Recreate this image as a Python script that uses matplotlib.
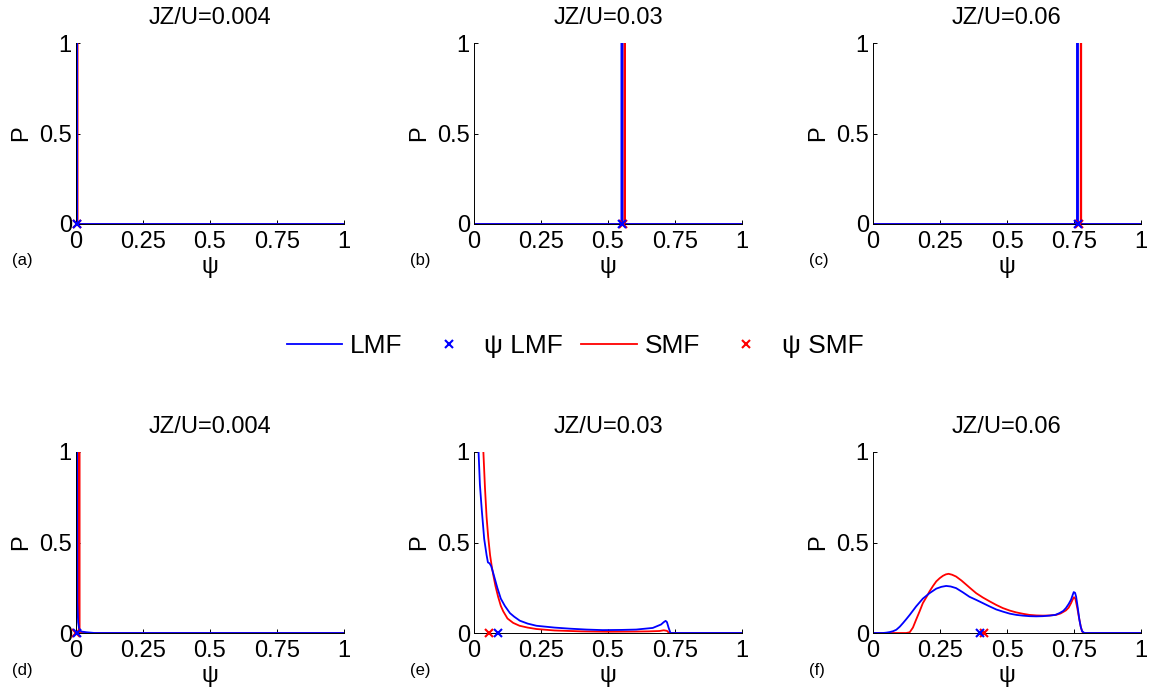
import matplotlib
matplotlib.use("Agg")
import matplotlib.pyplot as plt

plt.rcParams['font.family'] = ['Liberation Sans', 'DejaVu Sans']

titles = ["JZ/U=0.004", "JZ/U=0.03", "JZ/U=0.06"]
labels = ["(a)", "(b)", "(c)", "(d)", "(e)", "(f)"]
xticks = [0, 0.25, 0.5, 0.75, 1]
xticklabels = ["0", "0.25", "0.5", "0.75", "1"]
yticks = [0, 0.5, 1]
yticklabels = ["0", "0.5", "1"]

# top row: LMF / SMF (a)-(c)
psi_a_lmf = [0, 0.002, 0.003, 0.004, 1.0]
p_a_lmf = [0, 0, 30, 0, 0]
psi_a_smf = [0, 0.004, 0.005, 0.006, 1.0]
p_a_smf = [0, 0, 30, 0, 0]

psi_b_lmf = [0, 0.550, 0.551, 0.553, 0.554, 1.0]
p_b_lmf = [0, 0, 30, 30, 0, 0]
psi_b_smf = [0, 0.561, 0.562, 0.563, 1.0]
p_b_smf = [0, 0, 30, 0, 0]

psi_c_lmf = [0, 0.761, 0.762, 0.764, 0.765, 1.0]
p_c_lmf = [0, 0, 30, 30, 0, 0]
psi_c_smf = [0, 0.775, 0.776, 0.777, 1.0]
p_c_smf = [0, 0, 30, 0, 0]

# bottom row (d)-(f)
psi_d_lmf = [0, 0.0005, 0.001, 0.003, 0.005, 0.008, 0.012, 0.02, 0.04, 0.07, 1.0]
p_d_lmf = [0, 0, 6.0, 2.0, 0.17, 0.06, 0.02, 0.008, 0.004, 0.0, 0.0]
psi_d_smf = [0, 0.0115, 0.0125, 0.0135, 1.0]
p_d_smf = [0, 0, 30, 0, 0]

psi_e_lmf = [0.012, 0.017, 0.022, 0.029, 0.038, 0.047, 0.052, 0.058, 0.064, 0.072,
             0.087, 0.1, 0.115, 0.134, 0.15, 0.171, 0.2, 0.233, 0.3, 0.357, 0.42,
             0.48, 0.55, 0.605, 0.667, 0.698, 0.708, 0.715, 0.72, 0.726, 0.733, 0.74, 1.0]
p_e_lmf = [2.0, 1.0, 0.82, 0.68, 0.52, 0.43, 0.39, 0.385, 0.37, 0.33,
           0.25, 0.19, 0.15, 0.11, 0.09, 0.068, 0.052, 0.04, 0.03, 0.024, 0.019,
           0.016, 0.017, 0.019, 0.028, 0.047, 0.06, 0.067, 0.06, 0.03, 0.0, 0.0, 0.0]
psi_e_smf = [0.028, 0.035, 0.041, 0.047, 0.053, 0.06, 0.066, 0.072, 0.08, 0.09, 0.1,
             0.109, 0.125, 0.146, 0.17, 0.2, 0.233, 0.3, 0.4, 0.5, 0.6, 0.65, 0.692,
             0.708, 0.72, 0.728, 0.74, 1.0]
p_e_smf = [2.0, 1.0, 0.8, 0.64, 0.53, 0.43, 0.37, 0.32, 0.26, 0.2, 0.15,
           0.12, 0.08, 0.056, 0.04, 0.03, 0.022, 0.014, 0.009, 0.007, 0.008, 0.009, 0.011,
           0.015, 0.012, 0.0, 0.0, 0.0]

psi_f_lmf = [0, 0.037, 0.05, 0.062, 0.075, 0.087, 0.1, 0.112, 0.125, 0.137, 0.161, 0.186,
             0.211, 0.236, 0.255, 0.273, 0.29, 0.31, 0.335, 0.36, 0.385, 0.41, 0.435, 0.46,
             0.485, 0.51, 0.535, 0.559, 0.584, 0.609, 0.634, 0.658, 0.68, 0.696, 0.71, 0.72,
             0.73, 0.739, 0.745, 0.749, 0.754, 0.758, 0.764, 0.77, 0.775, 0.78, 0.789, 1.0]
p_f_lmf = [0, 0, 0.002, 0.005, 0.01, 0.018, 0.035, 0.055, 0.078, 0.10, 0.147, 0.19,
           0.22, 0.245, 0.255, 0.26, 0.257, 0.248, 0.225, 0.20, 0.183, 0.165, 0.147, 0.13,
           0.118, 0.107, 0.10, 0.096, 0.093, 0.092, 0.093, 0.096, 0.1, 0.11, 0.122, 0.138,
           0.16, 0.184, 0.21, 0.226, 0.222, 0.20, 0.14, 0.074, 0.035, 0.01, 0.0, 0.0]
psi_f_smf = [0, 0.124, 0.137, 0.149, 0.161, 0.174, 0.186, 0.2, 0.211, 0.224, 0.236, 0.249,
             0.261, 0.272, 0.282, 0.295, 0.31, 0.33, 0.348, 0.365, 0.385, 0.41, 0.435, 0.46,
             0.484, 0.51, 0.534, 0.56, 0.584, 0.61, 0.634, 0.66, 0.683, 0.7, 0.72, 0.73,
             0.739, 0.745, 0.75, 0.755, 0.762, 0.768, 0.776, 0.783, 1.0]
p_f_smf = [0, 0, 0.004, 0.03, 0.074, 0.12, 0.165, 0.2, 0.23, 0.26, 0.285, 0.303,
           0.316, 0.324, 0.327, 0.322, 0.312, 0.29, 0.267, 0.245, 0.22, 0.196, 0.175, 0.155,
           0.138, 0.124, 0.114, 0.106, 0.10, 0.097, 0.096, 0.097, 0.10, 0.108, 0.125, 0.14,
           0.165, 0.185, 0.198, 0.19, 0.14, 0.09, 0.03, 0.0, 0.0]

# mean psi markers
psi_mean_lmf = [0.003, 0.552, 0.764, 0.002, 0.09, 0.40]
psi_mean_smf = [0.004, 0.556, 0.768, 0.001, 0.056, 0.416]

panels = [
    (psi_a_lmf, p_a_lmf, psi_a_smf, p_a_smf),
    (psi_b_lmf, p_b_lmf, psi_b_smf, p_b_smf),
    (psi_c_lmf, p_c_lmf, psi_c_smf, p_c_smf),
    (psi_d_lmf, p_d_lmf, psi_d_smf, p_d_smf),
    (psi_e_lmf, p_e_lmf, psi_e_smf, p_e_smf),
    (psi_f_lmf, p_f_lmf, psi_f_smf, p_f_smf),
]

fig = plt.figure(figsize=(11.5, 6.9), dpi=100)
lefts = [76 / 1150, 474 / 1150, 873 / 1150]
bottoms = [1 - 224 / 690, 1 - 633 / 690]
w, h = 268 / 1150, 181 / 690

handles = None
for i, (x1, y1, x2, y2) in enumerate(panels):
    row, col = divmod(i, 3)
    ax = fig.add_axes([lefts[col], bottoms[row], w, h])
    l_smf, = ax.plot(x2, y2, color='red', lw=1.3)
    l_lmf, = ax.plot(x1, y1, color='blue', lw=1.3)
    m_smf, = ax.plot([psi_mean_smf[i]], [0], 'x', color='red', ms=6, mew=1.5, clip_on=False, zorder=4)
    m_lmf, = ax.plot([psi_mean_lmf[i]], [0], 'x', color='blue', ms=6, mew=1.5, clip_on=False, zorder=5)
    if handles is None:
        handles = [l_lmf, m_lmf, l_smf, m_smf]
    ax.set_xlim(0, 1)
    ax.set_ylim(0, 1)
    ax.spines['top'].set_visible(False)
    ax.spines['right'].set_visible(False)
    for s in ['left', 'bottom']:
        ax.spines[s].set_linewidth(0.7)
    ax.set_xticks(xticks)
    ax.set_xticklabels(xticklabels)
    ax.set_yticks(yticks)
    ax.set_yticklabels(yticklabels)
    ax.tick_params(direction='in', length=3, width=0.7, labelsize=17)
    ax.tick_params(axis='x', pad=5)
    ax.tick_params(axis='y', pad=3)
    ax.set_title(titles[col], fontsize=17, pad=14)
    ax.set_xlabel("ψ", fontsize=17, labelpad=2)
    ax.set_ylabel("P", fontsize=17, labelpad=5)
    ax.text(-64 / 268, -37 / 181, labels[i], transform=ax.transAxes,
            fontsize=12, ha='left', va='center')

fig.legend(handles, ["LMF", "ψ LMF", "SMF", "ψ SMF"], loc='center',
           bbox_to_anchor=(0.5, 1 - 346 / 690), ncol=4, frameon=False,
           fontsize=19, handlelength=2.1, handletextpad=0.3, columnspacing=0.7)

fig.savefig("out.png", dpi=100)
